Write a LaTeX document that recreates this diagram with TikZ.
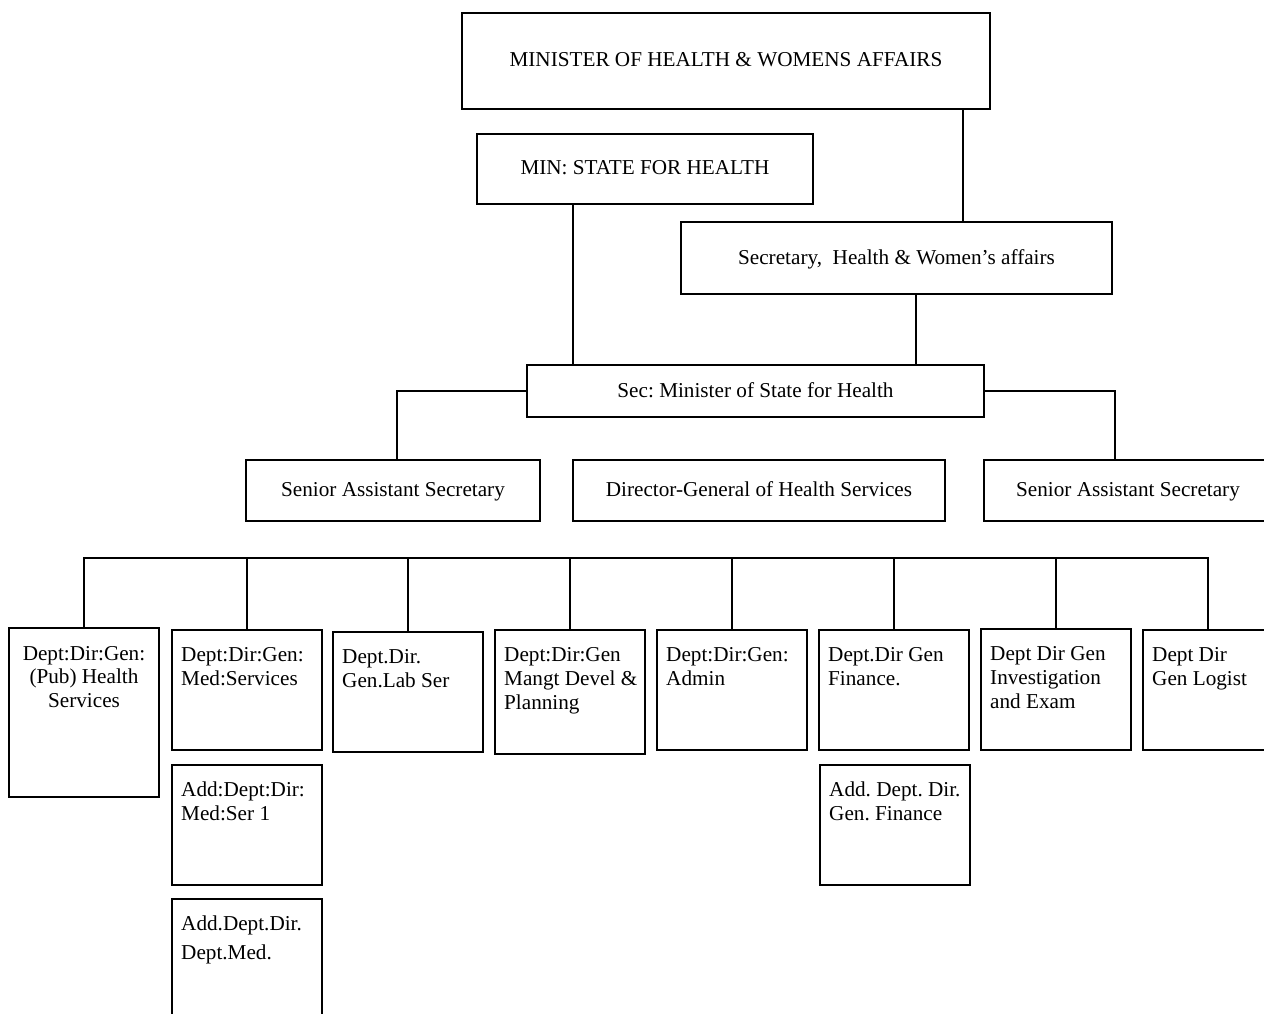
\documentclass[tikz,border=0pt]{standalone}
\usepackage{fontspec}
\setmainfont{Liberation Serif}
\frenchspacing
\begin{document}
\begin{tikzpicture}[x=1pt,y=-1pt,
  box/.style={draw, line width=1.8pt, inner sep=0pt, outer sep=0pt,
    anchor=north west, text height=15pt, text depth=3pt,
    font=\fontsize{21.2}{24}\selectfont},
  dept/.style={box, minimum width=150, minimum height=120},
  tl/.style={anchor=north west, align=left, inner xsep=9pt, inner ysep=17pt,
    font=\fontsize{21.2}{24}\selectfont},
  tc/.style={anchor=north, align=center, inner xsep=0pt, inner ysep=18pt,
    font=\fontsize{21.2}{23.5}\selectfont},
  link/.style={line width=1.6pt}]
\useasboundingbox (0,0) rectangle (1264,1014);
\clip (0,0) rectangle (1264,1014);

% upper levels
\node[box, minimum width=528, minimum height=96] (top) at (462,13)
  {MINISTER OF HEALTH \& WOMENS AFFAIRS};
\node[box, minimum width=336, minimum height=70] (min) at (477,134)
  {MIN: STATE FOR HEALTH};
\node[box, minimum width=431, minimum height=72] (secy) at (681,222)
  {Secretary,\ \ Health \& Women's affairs};
\node[box, minimum width=457, minimum height=52] (sec) at (527,365)
  {Sec: Minister of State for Health};
\node[box, minimum width=294, minimum height=61] (sl) at (246,460)
  {Senior Assistant Secretary};
\node[box, minimum width=372, minimum height=61] (dg) at (573,460)
  {Director-General of Health Services};
\node[box, minimum width=288, minimum height=61] (sr) at (984,460)
  {Senior Assistant Secretary};

% deputy directors general
\node[dept, minimum height=169, label={[tc]north:{Dept:Dir:Gen:\\(Pub) Health\\Services}}] (d1) at (9,628) {};
\node[dept, label={[tl]north west:{Dept:Dir:Gen:\\Med:Services}}] (d2) at (172,630) {};
\node[dept, label={[tl]north west:{Dept.Dir.\\Gen.Lab Ser}}] (d3) at (333,632) {};
\node[dept, minimum height=124, label={[tl]north west:{Dept:Dir:Gen\\Mangt Devel \&\\Planning}}] (d4) at (495,630) {};
\node[dept, label={[tl]north west:{Dept:Dir:Gen:\\Admin}}] (d5) at (657,630) {};
\node[dept, label={[tl]north west:{Dept.Dir Gen\\Finance.}}] (d6) at (819,630) {};
\node[dept, minimum height=121, label={[tl]north west:{Dept Dir Gen\\Investigation\\and Exam}}] (d7) at (981,629) {};
\node[dept, minimum width=130, label={[tl]north west:{Dept Dir\\Gen Logist}}] (d8) at (1143,630) {};

% additional deputies
\node[dept, minimum height=120, label={[tl]north west:{Add:Dept:Dir:\\Med:Ser 1}}] (a1) at (172,765) {};
\node[dept, minimum height=130, label={[tl]north west:{Add.Dept.Dir.\\[5pt]Dept.Med.}}] (a2) at (172,899) {};
\node[dept, label={[tl]north west:{Add. Dept. Dir.\\Gen. Finance}}] (a3) at (820,765) {};

% connectors
\draw[link] ([xshift=237]top.south) -- ([xshift=237]top.south |- secy.north);
\draw[link] ([xshift=-72]min.south) -- ([xshift=-72]min.south |- sec.north);
\draw[link] ([xshift=19.5]secy.south) -- ([xshift=19.5]secy.south |- sec.north);
\draw[link] (sec.west) -| ([xshift=4]sl.north);
\draw[link] (sec.east) -| ([xshift=-13]sr.north);

\coordinate (bus) at (0,558);
\draw[link] (d1.north) |- (bus -| d8.north) -- (d8.north);
\foreach \d in {d2,d3,d4,d5,d6,d7}
  \draw[link] (\d.north) -- (\d.north |- bus);
\end{tikzpicture}
\end{document}
